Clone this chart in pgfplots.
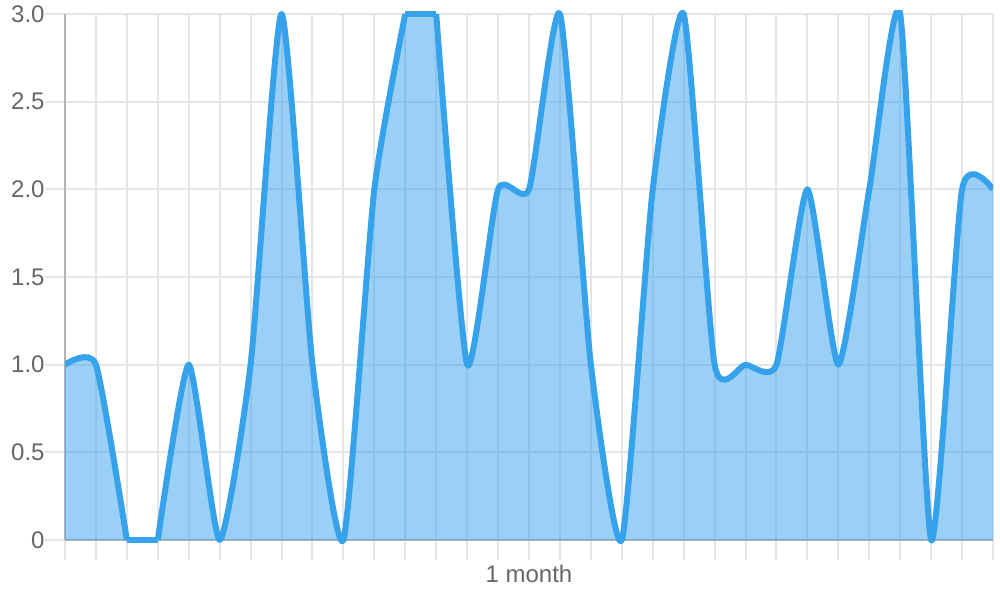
\documentclass[border=0pt]{standalone}
\usepackage{pgfplots}
\pgfplotsset{compat=1.18}
\usepackage{fontspec}
\setmainfont{Liberation Sans}

\definecolor{cjsblue}{RGB}{54,162,235}
\definecolor{gridc}{RGB}{229,229,229}
\definecolor{axisc}{RGB}{180,180,180}
\definecolor{labc}{RGB}{102,102,102}

% one value per day; split where the curve runs flat
\pgfplotstableread{
day value
0  1
1  1
2  0
}\partA
\pgfplotstableread{
day value
2  0
3  0
}\flatlow
\pgfplotstableread{
day value
3  0
4  1
5  0
6  1
7  3
8  1
9  0
10 2
11 3
}\partB
\pgfplotstableread{
day value
11 3
12 3
}\flathigh
\pgfplotstableread{
day value
12 3
13 1
14 2
15 2
16 3
17 1
18 0
19 2
20 3
21 1
22 1
23 1
24 2
25 1
26 2
27 3
28 0
29 2
30 2
}\partC

\pgfplotsset{
    frame/.style={scale only axis, width=464pt, xmin=0, xmax=30,
        anchor=south west},
    curve/.style={smooth, tension=0.35},
}

\begin{document}
\begin{tikzpicture}
% grid, ticks, labels and the filled area
\begin{axis}[
    frame, at={(0pt,0pt)}, height=263pt,
    ymin=0, ymax=3,
    axis lines*=left,
    axis line style={axisc, line width=1pt, -},
    grid=major,
    major grid style={gridc, line width=1pt},
    xtick={0,...,30},
    xticklabels={,,,,,,,,,,,,,,,1 month},
    ytick={0,0.5,1,1.5,2,2.5,3},
    yticklabels={0,0.5,1.0,1.5,2.0,2.5,3.0},
    tick align=outside,
    major tick length=10pt,
    tick style={gridc, line width=1pt},
    tick label style={font=\fontsize{12}{14}\selectfont, text=labc},
    yticklabel style={anchor=east, inner sep=0pt},
    xticklabel style={anchor=base, inner sep=0pt, yshift=-11pt},
]
\addplot[draw=none, fill=cjsblue, fill opacity=0.5, curve]
    table[x=day, y=value] {\partA} \closedcycle;
\addplot[draw=none, fill=cjsblue, fill opacity=0.5, curve]
    table[x=day, y=value] {\partB} \closedcycle;
\addplot[draw=none, fill=cjsblue, fill opacity=0.5, sharp plot]
    table[x=day, y=value] {\flathigh} \closedcycle;
\addplot[draw=none, fill=cjsblue, fill opacity=0.5, curve]
    table[x=day, y=value] {\partC} \closedcycle;
\end{axis}
% the line, in an axis 1.5pt taller on each side so it is not cut in half
\begin{axis}[
    frame, at={(0pt,-1.5pt)}, height=266pt,
    ymin=-0.01711, ymax=3.01711,
    hide axis,
]
\addplot[cjsblue, line width=3pt, curve, line join=round]
    table[x=day, y=value] {\partA};
\addplot[cjsblue, line width=3pt, sharp plot]
    table[x=day, y=value] {\flatlow};
\addplot[cjsblue, line width=3pt, curve, line join=round]
    table[x=day, y=value] {\partB};
\addplot[cjsblue, line width=3pt, sharp plot]
    table[x=day, y=value] {\flathigh};
\addplot[cjsblue, line width=3pt, curve, line join=round]
    table[x=day, y=value] {\partC};
\end{axis}
\pgfresetboundingbox
\path[use as bounding box] (-32.5pt,-30pt) rectangle (467.5pt,270pt);
\end{tikzpicture}
\end{document}
